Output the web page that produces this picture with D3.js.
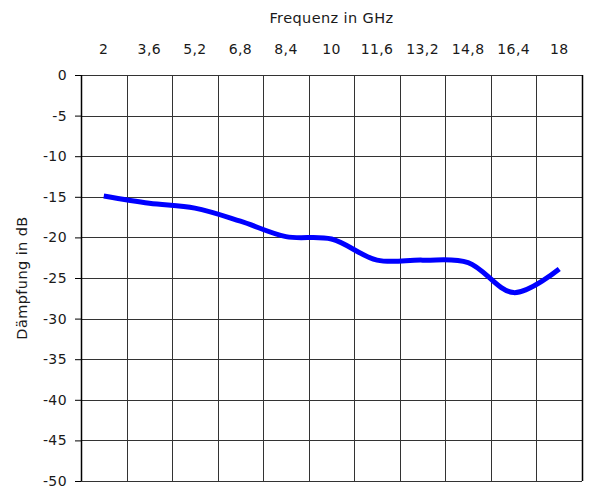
<!DOCTYPE html>
<html>
<head>
<meta charset="utf-8">
<script src="https://cdn.jsdelivr.net/npm/d3@7"></script>
<style>
  body { margin: 0; background: #fff; }
  text { font-family: "DejaVu Sans", sans-serif; fill: #1a1a1a; letter-spacing: 0.4px; }
</style>
</head>
<body>
<svg id="chart" width="590" height="489"></svg>
<script>
// frequency categories (GHz) and attenuation (dB)
const freqLabels = ['2', '3,6', '5,2', '6,8', '8,4', '10', '11,6', '13,2', '14,8', '16,4', '18'];
const daempfung = [-14.9, -15.8, -16.4, -18.0, -19.9, -20.2, -22.8, -22.8, -23.1, -26.8, -23.9];
const yTicks = [0, -5, -10, -15, -20, -25, -30, -35, -40, -45, -50];

const margin = {top: 75, right: 8, bottom: 8, left: 81};
const width = 582 - margin.left;
const height = 481 - margin.top;

const svg = d3.select('#chart');
const g = svg.append('g')
    .attr('transform', `translate(${margin.left},${margin.top})`);

const x = d3.scaleBand().domain(freqLabels).range([0, width]);
const y = d3.scaleLinear().domain([-50, 0]).range([height, 0]);

// horizontal grid lines
g.append('g')
    .selectAll('line')
    .data(yTicks)
    .join('line')
    .attr('x1', 0)
    .attr('x2', width)
    .attr('y1', (d) => Math.round(y(d)) + 0.5)
    .attr('y2', (d) => Math.round(y(d)) + 0.5)
    .attr('stroke', '#333')
    .attr('stroke-width', 1);

// vertical grid lines between categories
const bounds = freqLabels.map((d) => x(d)).concat([width]);
g.append('g')
    .selectAll('line')
    .data(bounds)
    .join('line')
    .attr('x1', (d) => Math.round(d) + 0.5)
    .attr('x2', (d) => Math.round(d) + 0.5)
    .attr('y1', 0)
    .attr('y2', height)
    .attr('stroke', (d, i) => (i === 0 || i === bounds.length - 1) ? '#000' : '#333')
    .attr('stroke-width', (d, i) => (i === 0 || i === bounds.length - 1) ? 1.5 : 1);

// y axis ticks + labels
const yAxis = g.append('g')
    .call(d3.axisLeft(y).tickValues(yTicks).tickSize(6).tickPadding(8)
        .tickFormat((d) => d3.format('d')(d).replace('−', '-')));
yAxis.select('.domain').remove();
yAxis.selectAll('.tick line').attr('stroke', '#000');
yAxis.selectAll('.tick text')
    .style('font-family', '"DejaVu Sans", sans-serif')
    .style('font-size', '14px')
    .attr('fill', '#1a1a1a');

// x labels on top, centered in each band
g.append('g')
    .selectAll('text')
    .data(freqLabels)
    .join('text')
    .attr('x', (d) => x(d) + x.bandwidth() / 2)
    .attr('y', -21)
    .attr('text-anchor', 'middle')
    .style('font-size', '14px')
    .text((d) => d);

// axis titles
svg.append('text')
    .attr('x', margin.left + width / 2)
    .attr('y', 23)
    .attr('text-anchor', 'middle')
    .style('font-size', '14.5px')
    .text('Frequenz in GHz');

svg.append('text')
    .attr('transform', `translate(27,${margin.top + height / 2}) rotate(-90)`)
    .attr('text-anchor', 'middle')
    .style('font-size', '14.5px')
    .text('Dämpfung in dB');

// smoothed attenuation line
const line = d3.line()
    .x((d, i) => x(freqLabels[i]) + x.bandwidth() / 2)
    .y((d) => y(d))
    .curve(d3.curveCatmullRom.alpha(0.5));

g.append('path')
    .datum(daempfung)
    .attr('fill', 'none')
    .attr('stroke', '#0000ff')
    .attr('stroke-width', 5)
    .attr('d', line);
</script>
</body>
</html>
